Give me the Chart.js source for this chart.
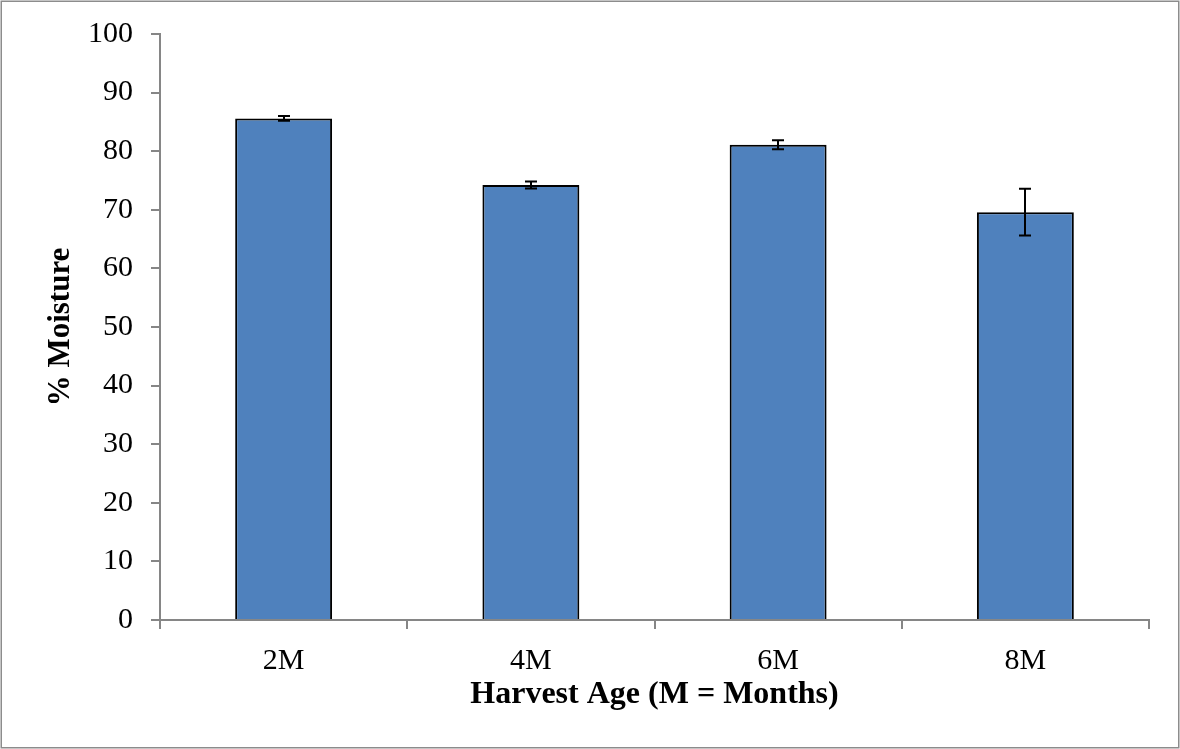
<!DOCTYPE html>
<html>
<head>
<meta charset="utf-8">
<script src="https://cdn.jsdelivr.net/npm/chart.js@4/dist/chart.umd.min.js"></script>
<style>
html,body{margin:0;padding:0;background:#fff;}
#wrap{width:1180px;height:749px;position:relative;}
</style>
</head>
<body>
<div id="wrap"><canvas id="c" width="1180" height="749"></canvas></div>
<script>
const categories = ["2M", "4M", "6M", "8M"];
const moisture = [85.6, 74.25, 81.1, 69.6];
const moistureError = [0.4, 0.6, 0.77, 4.0];
const yTicks = [0, 10, 20, 30, 40, 50, 60, 70, 80, 90, 100];
const xTitle = "Harvest Age (M = Months)";
const yTitle = "% Moisture";

const errorBarPlugin = {
  id: 'errorBars',
  afterDatasetsDraw(chart) {
    const ctx = chart.ctx;
    const meta = chart.getDatasetMeta(0);
    const yScale = chart.scales.y;
    ctx.save();
    ctx.strokeStyle = '#000';
    ctx.lineWidth = 2;
    meta.data.forEach((bar, i) => {
      const v = moisture[i], e = moistureError[i];
      const x = Math.round(bar.x);
      const yTop = yScale.getPixelForValue(v + e);
      const yBot = yScale.getPixelForValue(v - e);
      const cap = 6;
      ctx.beginPath();
      ctx.moveTo(x, yTop); ctx.lineTo(x, yBot);
      ctx.moveTo(x - cap, yTop); ctx.lineTo(x + cap, yTop);
      ctx.moveTo(x - cap, yBot); ctx.lineTo(x + cap, yBot);
      ctx.stroke();
    });
    ctx.restore();
  }
};

const framePlugin = {
  id: 'frame',
  beforeDraw(chart) {
    const ctx = chart.ctx;
    ctx.save();
    ctx.fillStyle = '#fff';
    ctx.fillRect(0, 0, chart.width, chart.height);
    ctx.restore();
  },
  afterDraw(chart) {
    const ctx = chart.ctx;
    ctx.save();
    ctx.strokeStyle = '#8c8c8c';
    ctx.lineWidth = 1.5;
    ctx.strokeRect(1.25, 1.25, chart.width - 2.5, chart.height - 2.5);
    ctx.restore();
  }
};

const axisColor = '#868686';
const tickFont = { family: "'Liberation Serif', 'Times New Roman', serif", size: 30 };
const xTitleFont = { family: "'Liberation Serif', 'Times New Roman', serif", size: 32, weight: 'bold' };
const yTitleFont = { family: "'Liberation Serif', 'Times New Roman', serif", size: 31, weight: 'bold' };

new Chart(document.getElementById('c'), {
  type: 'bar',
  data: {
    labels: categories,
    datasets: [{
      data: moisture,
      backgroundColor: '#4F81BD',
      borderColor: '#000000',
      borderWidth: 2,
      barPercentage: 0.392,
      categoryPercentage: 1.0
    }]
  },
  options: {
    responsive: false,
    animation: false,
    devicePixelRatio: 1,
    layout: { padding: { left: 42, right: 31, top: 34, bottom: 35 } },
    plugins: { legend: { display: false }, tooltip: { enabled: false } },
    scales: {
      x: {
        offset: true,
        grid: { offset: true, drawOnChartArea: false, drawTicks: true, tickLength: 9, color: axisColor, lineWidth: 2 },
        border: { display: true, color: axisColor, width: 2 },
        ticks: { color: '#000', font: tickFont, padding: 14, maxRotation: 0 },
        title: { display: true, text: xTitle, color: '#000', font: xTitleFont, padding: 0 },
        afterFit(scale) { scale.height = 94; scale.paddingLeft = 0; scale.paddingRight = 0; }
      },
      y: {
        min: 0, max: 100,
        afterBuildTicks(scale) { scale.ticks = yTicks.map(v => ({ value: v })); },
        grid: { drawOnChartArea: false, drawTicks: true, tickLength: 9, color: axisColor, lineWidth: 2 },
        border: { display: true, color: axisColor, width: 2 },
        ticks: { color: '#000', font: tickFont, padding: 18 },
        title: { display: true, text: yTitle, color: '#000', font: yTitleFont, padding: 0 },
        afterFit(scale) { scale.width = 118; scale.paddingTop = 0; scale.paddingBottom = 0; }
      }
    }
  },
  plugins: [framePlugin, errorBarPlugin]
});
</script>
</body>
</html>
